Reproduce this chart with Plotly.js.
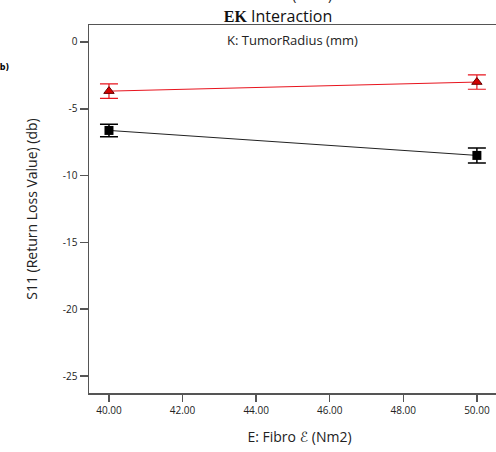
<!DOCTYPE html>
<html><head><meta charset="utf-8">
<script src="https://cdn.plot.ly/plotly-3.0.1.min.js"></script>
<style>html,body{margin:0;padding:0;overflow:hidden;width:496px;height:452px;background:#fff}</style>
</head><body><div id="chart" style="width:520px;height:452px"></div>
<script>
const xLevels = [40, 50];
const kHighY = [-3.68, -3.0];
const kHighErr = [0.54, 0.54];
const kLowY = [-6.62, -8.49];
const kLowErr = [0.47, 0.56];
const xTicks = [40, 42, 44, 46, 48, 50];
const yTicks = [0, -5, -10, -15, -20, -25];
const yTickLabels = ['0', '-5', '-10', '-15', '-20', '-25'];

const font = "Open Sans, DejaVu Sans, sans-serif";
const traces = [
  {x: xLevels, y: kLowY, type: 'scatter', mode: 'lines+markers',
   line: {color: '#222', width: 1},
   marker: {symbol: 'square', size: 9, color: '#000'},
   error_y: {type: 'data', array: kLowErr, visible: true, color: '#000', thickness: 1.5, width: 9}},
  {x: xLevels, y: kHighY, type: 'scatter', mode: 'lines+markers',
   line: {color: '#e8141e', width: 1},
   marker: {symbol: 'triangle-up', size: 9, color: '#d40000', line: {color: '#600', width: 1}},
   error_y: {type: 'data', array: kHighErr, visible: true, color: '#e8141e', thickness: 1.2, width: 9}}
];
const layout = {
  width: 520, height: 452,
  margin: {l: 89, r: 10, t: 25, b: 59},
  paper_bgcolor: '#fff', plot_bgcolor: '#fff',
  showlegend: false,
  font: {family: font, color: '#222'},
  title: {text: '<span style="font-family:\'Liberation Serif\';font-weight:bold">EK</span> Interaction',
          font: {size: 16, family: font, color: '#111'}, x: 278/520, xanchor: 'center', y: 1 - 16/452, yanchor: 'middle'},
  xaxis: {range: [39.457, 50.9], tickvals: xTicks, ticktext: xTicks.map(v => v.toFixed(2)),
          ticks: 'outside', ticklen: 7, tickcolor: '#555', tickwidth: 1.5,
          showline: true, linecolor: '#555', linewidth: 1.5, mirror: true, showgrid: false, zeroline: false,
          tickfont: {size: 10, color: '#222'},
          title: {text: 'E: Fibro ℰ (Nm2)', font: {size: 14, color: '#222'}, standoff: 16}},
  yaxis: {range: [-26.27, 1.27], tickvals: yTicks, ticktext: yTickLabels, ticks: 'outside', ticklen: 8, tickcolor: '#555', tickwidth: 1.5,
          showline: true, linecolor: '#555', linewidth: 1.5, showgrid: false, zeroline: false,
          tickfont: {size: 10, color: '#222'},
          title: {text: 'S11 (Return Loss Value) (db)', font: {size: 14, color: '#222'}, standoff: 22}},
  annotations: [
    {text: 'K: TumorRadius (mm)', xref: 'paper', yref: 'paper', x: (292-89)/(510-89), y: 1, yshift: -15,
     xanchor: 'center', yanchor: 'middle', showarrow: false, font: {size: 13, color: '#222'}},
    {text: 'E: Fibro ℰ (Nm2)', xref: 'paper', yref: 'paper', x: (280-89)/(510-89), y: 1, yshift: 31,
     xanchor: 'center', yanchor: 'middle', showarrow: false, font: {size: 14, color: '#222'}},
    {text: '<b>(b)</b>', xref: 'paper', yref: 'paper', x: 0, xshift: -95, y: 1, yshift: -42,
     xanchor: 'left', yanchor: 'middle', showarrow: false, font: {size: 8, color: '#000', family: 'DejaVu Sans'}}
  ]
};
Plotly.newPlot('chart', traces, layout, {displayModeBar: false, staticPlot: true});
</script></body></html>
